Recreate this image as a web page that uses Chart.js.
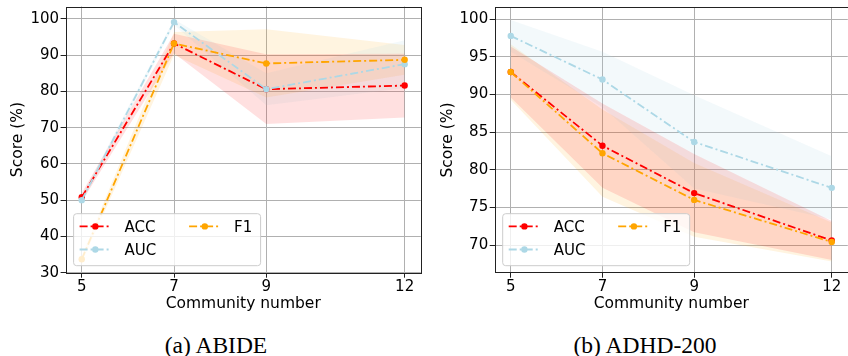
<!DOCTYPE html>
<html><head><meta charset="utf-8">
<script src="https://cdn.jsdelivr.net/npm/chart.js@4.4.0/dist/chart.umd.min.js"></script>
<style>
html,body{margin:0;padding:0;background:#fff;overflow:hidden;width:848px;height:356px;}
#wrap{position:relative;width:848px;height:356px;overflow:hidden;}
canvas{position:absolute;top:0;}
.cap{position:absolute;font-family:"Liberation Serif","Times New Roman",serif;font-size:23.5px;line-height:24px;white-space:nowrap;transform:translateX(-50%);color:#000;}
</style></head><body>
<div id="wrap">
<canvas id="c1" width="424" height="320" style="left:0"></canvas>
<canvas id="c2" width="427" height="320" style="left:424px"></canvas>
<div class="cap" style="left:216px;top:333px">(a) ABIDE</div>
<div class="cap" style="left:645px;top:333px">(b) ADHD-200</div>
</div>
<script>
const communities = [5, 7, 9, 12];
const metricNames = ['ACC', 'AUC', 'F1'];
// ABIDE
const abideAccMean = [50.8, 93.2, 80.6, 81.6];
const abideAccStd  = [1.2, 2.7, 9.6, 8.8];
const abideAucMean = [50.0, 99.1, 80.6, 87.5];
const abideAucStd  = [1.0, 0.8, 4.4, 6.6];
const abideF1Mean  = [33.7, 93.2, 87.7, 88.7];
const abideF1Std   = [1.0, 3.2, 9.4, 4.1];
const abideYTicks  = [30, 40, 50, 60, 70, 80, 90, 100];
// ADHD-200
const adhdAccMean = [93.0, 83.2, 76.9, 70.6];
const adhdAccStd  = [3.4, 5.6, 5.2, 2.6];
const adhdAucMean = [97.8, 92.0, 83.7, 77.6];
const adhdAucStd  = [2.1, 3.7, 6.2, 4.2];
const adhdF1Mean  = [93.0, 82.2, 76.0, 70.4];
const adhdF1Std   = [3.7, 5.8, 4.9, 2.6];
const adhdYTicks  = [70, 75, 80, 85, 90, 95, 100];
const xTicks = [5, 7, 9, 12];

const COLORS = {ACC: 'rgb(255,0,0)', AUC: 'rgb(173,216,230)', F1: 'rgb(255,165,0)'};
const BAND = {ACC: 'rgba(255,0,0,0.12)', AUC: 'rgba(173,216,230,0.15)', F1: 'rgba(255,165,0,0.12)'};
const DASH = [8, 3, 2, 3];
const FONT = 'DejaVu Sans';

function pts(arr, off, sign) {
  return communities.map((c, i) => ({x: c, y: arr[i] + (off ? sign * off[i] : 0)}));
}

function buildDatasets(means, stds) {
  const lines = [];
  const bands = [];
  const orderOf = {ACC: 3, AUC: 2, F1: 1};
  metricNames.forEach((m, k) => {
    lines.push({
      label: m, data: pts(means[k]), borderColor: COLORS[m], backgroundColor: COLORS[m],
      borderWidth: 1.8, borderDash: DASH, pointRadius: 3.2, pointHoverRadius: 3.2,
      pointBackgroundColor: COLORS[m], pointBorderWidth: 0, tension: 0, fill: false, order: orderOf[m]
    });
  });
  metricNames.forEach((m, k) => {
    bands.push({label: m + ' upper', data: pts(means[k], stds[k], 1), borderWidth: 0, borderColor: 'rgba(0,0,0,0)',
      pointRadius: 0, fill: false, tension: 0, order: 10});
    bands.push({label: m + ' lower', data: pts(means[k], stds[k], -1), borderWidth: 0, borderColor: 'rgba(0,0,0,0)',
      pointRadius: 0, fill: '-1', backgroundColor: BAND[m], tension: 0, order: 10});
  });
  return lines.concat(bands);
}

const legendFrame = {
  id: 'legendFrame',
  afterDatasetsDraw(chart) {
    const o = chart.options.plugins.legendFrame;
    const {ctx, chartArea: a} = chart;
    const bx = a.left + o.dx, by = a.bottom - o.dy - o.h;
    ctx.save();
    ctx.beginPath();
    ctx.roundRect(bx + 0.5, by + 0.5, o.w, o.h, 3);
    ctx.fillStyle = 'rgba(255,255,255,0.8)';
    ctx.fill();
    ctx.strokeStyle = '#cccccc';
    ctx.lineWidth = 1;
    ctx.stroke();
    const entries = [{m: 'ACC', col: 0, row: 0}, {m: 'F1', col: 1, row: 0}, {m: 'AUC', col: 0, row: 1}];
    entries.forEach(e => {
      const x0 = bx + 6.5 + e.col * 109.5;
      const y = by + 13.2 + e.row * 23.1;
      ctx.strokeStyle = COLORS[e.m];
      ctx.lineWidth = 1.8;
      ctx.setLineDash(DASH);
      ctx.beginPath(); ctx.moveTo(x0, y); ctx.lineTo(x0 + 31.5, y); ctx.stroke();
      ctx.setLineDash([]);
      ctx.fillStyle = COLORS[e.m];
      ctx.beginPath(); ctx.arc(x0 + 15.7, y, 3.2, 0, Math.PI * 2); ctx.fill();
      ctx.fillStyle = '#000';
      ctx.font = '15px "' + FONT + '"';
      ctx.textBaseline = 'alphabetic';
      ctx.fillText(e.m, x0 + 45, y + 5.5);
    });
    ctx.restore();
  },
  afterDraw(chart) {
    const {ctx, chartArea: a} = chart;
    ctx.save();
    ctx.strokeStyle = '#222';
    ctx.lineWidth = 1;
    ctx.strokeRect(Math.round(a.left) + 0.5, Math.round(a.top) + 0.5, Math.round(a.right - a.left), Math.round(a.bottom - a.top));
    ctx.restore();
  }
};

function makeChart(id, datasets, cfg) {
  return new Chart(document.getElementById(id), {
    type: 'line',
    data: {datasets},
    plugins: [legendFrame],
    options: {
      responsive: false, animation: false, devicePixelRatio: 1,
      layout: {padding: {top: cfg.top, right: cfg.right, left: 0, bottom: 0}},
      plugins: {legend: {display: false}, tooltip: {enabled: false}, filler: {drawTime: 'beforeDatasetsDraw'},
        legendFrame: {dx: 7.5, dy: 7.5, w: 187, h: 52}},
      scales: {
        x: {
          type: 'linear', min: 4.65, max: 12.35,
          afterBuildTicks: s => { s.ticks = xTicks.map(v => ({value: v})); },
          afterFit: s => { s.height = 320 - 272.7; s.paddingLeft = 0; s.paddingRight = 0; },
          grid: {color: '#b0b0b0', lineWidth: 1, tickLength: 5, tickColor: '#222'},
          border: {display: false},
          ticks: {font: {family: FONT, size: 15}, color: '#000', padding: 0, maxRotation: 0, autoSkip: false},
          title: {display: true, text: 'Community number', font: {family: FONT, size: 15.5}, color: '#000', padding: {top: 0, bottom: 6.9}}
        },
        y: {
          type: 'linear', min: cfg.ymin, max: cfg.ymax,
          afterBuildTicks: s => { s.ticks = cfg.yticks.map(v => ({value: v})); },
          afterFit: s => { s.width = cfg.yw; s.paddingTop = 0; s.paddingBottom = 0; },
          grid: {color: '#b0b0b0', lineWidth: 1, tickLength: 5, tickColor: '#222'},
          border: {display: false},
          ticks: {font: {family: FONT, size: 15}, color: '#000', padding: 1.5, autoSkip: false},
          title: {display: true, text: 'Score (%)', font: {family: FONT, size: 15.5}, color: '#000', padding: {top: cfg.tpad, bottom: 0}}
        }
      }
    }
  });
}

makeChart('c1', buildDatasets([abideAccMean, abideAucMean, abideF1Mean], [abideAccStd, abideAucStd, abideF1Std]),
  {top: 6.5, right: 1.6, ymin: 30, ymax: 103.4, yticks: abideYTicks, yw: 65.6, tpad: 8.7});
makeChart('c2', buildDatasets([adhdAccMean, adhdAucMean, adhdF1Mean], [adhdAccStd, adhdAucStd, adhdF1Std]),
  {top: 7.3, right: 0.5, ymin: 66.32, ymax: 101.6, yticks: adhdYTicks, yw: 70.7, tpad: 14.7});
</script>
</body></html>
